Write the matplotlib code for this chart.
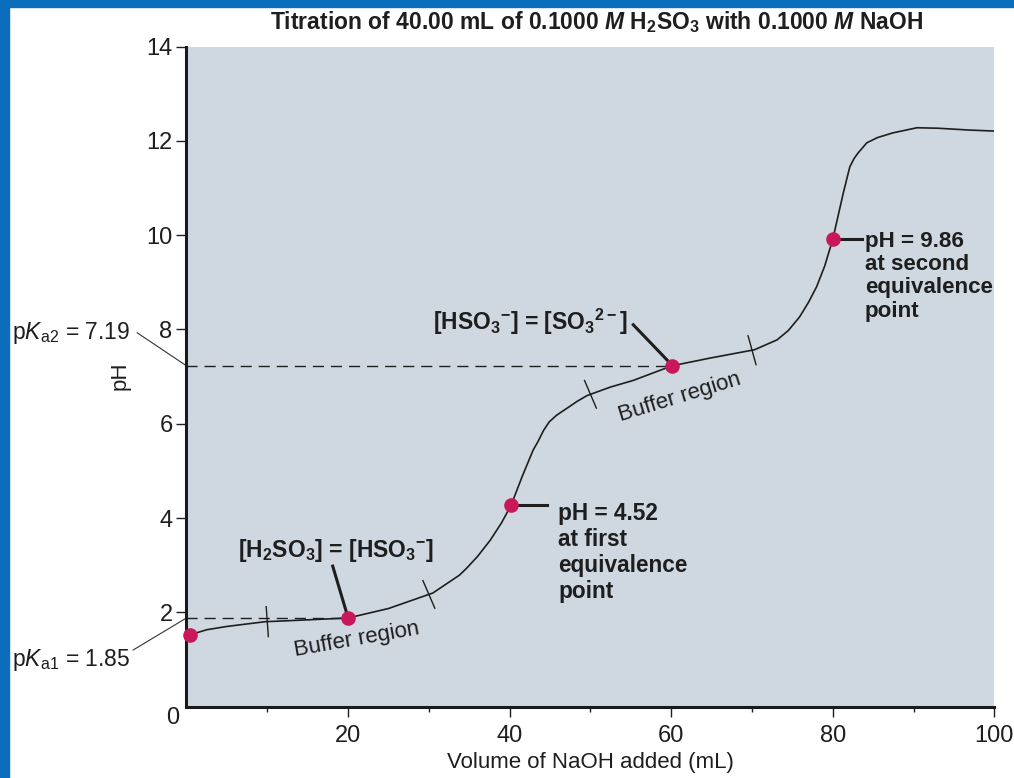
import matplotlib
matplotlib.use('Agg')
import matplotlib.pyplot as plt
from matplotlib.patches import Rectangle
import numpy as np

plt.rcParams['font.family'] = ['Liberation Sans', 'DejaVu Sans']
plt.rcParams['mathtext.fontset'] = 'custom'
plt.rcParams['mathtext.rm'] = 'Liberation Sans'
plt.rcParams['mathtext.it'] = 'Liberation Sans:italic:bold'
plt.rcParams['mathtext.bf'] = 'Liberation Sans:bold'
plt.rcParams['mathtext.sf'] = 'Liberation Sans:italic'

# Titration curve.
volumeAdded = [0.4, 2.5, 5, 9.7, 15, 20, 25, 30.5, 33.8, 34.7, 36, 37.6, 39, 40.2, 41.5, 42.9, 43.5, 44.2, 44.9, 45.8,
               47.1, 48.3, 49.6, 52.5, 55.3, 60.1, 65, 70.3, 73.1, 74.5, 75.9, 77, 78.0, 79, 80.0, 81.3, 82.1, 82.6,
               83.1, 84.2, 85.5, 87.4, 90.4, 93, 97, 100]
phValues = [1.52, 1.63, 1.70, 1.80, 1.84, 1.88, 2.08, 2.41, 2.79, 2.94, 3.18, 3.53, 3.90, 4.28, 4.86, 5.44, 5.62,
            5.86, 6.04, 6.18, 6.33, 6.47, 6.60, 6.78, 6.92, 7.23, 7.40, 7.57, 7.78, 7.98, 8.27, 8.58, 8.91, 9.35,
            9.92, 10.90, 11.45, 11.62, 11.74, 11.96, 12.07, 12.17, 12.28, 12.27, 12.23, 12.21]

# Highlighted points on the curve.
markedVolumes = [0.4, 20, 40.2, 60.1, 80.0]
markedPH = [1.52, 1.88, 4.28, 7.23, 9.92]

# Edges of the two buffer regions.
bufferEdges = [10, 30, 50, 70]

xMajorTicks = [20, 40, 60, 80, 100]
xMinorTicks = [10, 30, 50, 70, 90]
yTicks = [2, 4, 6, 8, 10, 12, 14]

pKaLabels = ['p$\\mathsf{K}_{\\mathrm{a2}}$ = 7.19', 'p$\\mathsf{K}_{\\mathrm{a1}}$ = 1.85']

textColour = '#1e1e1e'
dotColour = '#c8185a'

fig = plt.figure(figsize=(10.14, 7.78), dpi=100)
fig.patch.set_facecolor('white')
ax = fig.add_axes([0.1839, 0.0918, 0.7968, 0.8482])
ax.set_facecolor('#cfd8e0')
ax.set_xlim(0, 100)
ax.set_ylim(0, 14)

# Blue frame on the left and top edges.
fig.patches.append(Rectangle((0, 0), 9 / 1014, 1, transform=fig.transFigure, color='#0a6ebd', zorder=0))
fig.patches.append(Rectangle((0, 1 - 7 / 778), 1, 7 / 778, transform=fig.transFigure, color='#0a6ebd', zorder=0))

for side in ['top', 'right']:
    ax.spines[side].set_visible(False)
for side in ['left', 'bottom']:
    ax.spines[side].set_linewidth(2.2)
    ax.spines[side].set_color('#1a1a1a')

ax.set_xticks(xMajorTicks)
ax.set_xticks(xMinorTicks, minor=True)
ax.set_yticks(yTicks)
ax.tick_params(axis='both', which='major', direction='out', length=7, width=1, colors=textColour, labelsize=17)
ax.tick_params(axis='x', which='major', pad=6)
ax.tick_params(axis='y', which='major', pad=3)
ax.tick_params(axis='x', which='minor', direction='out', length=3.5, width=1, colors=textColour)
ax.text(-1.67, -0.24, '0', fontsize=17, color=textColour, ha='center', va='center', clip_on=False)

ax.set_xlabel('Volume of NaOH added (mL)', fontsize=16, color=textColour)
ax.xaxis.set_label_coords(0.5, -0.084)
ax.xaxis.label.set_va('center')
ax.set_ylabel('pH', fontsize=16, color=textColour)
ax.yaxis.set_label_coords(-0.0823, 0.501)
ax.yaxis.label.set_va('center')

fig.text(0.588, 0.9717, 'Titration of 40.00 mL of 0.1000 $\\mathit{M}$ H$_\\mathbf{2}$SO$_\\mathbf{3}$ with 0.1000 $\\mathit{M}$ NaOH',
         fontsize=16.5, fontweight='bold', color=textColour, ha='center', va='center')

# Dashed pKa guide lines.
ax.plot([0, markedVolumes[1]], [markedPH[1], markedPH[1]], color=textColour, linewidth=1, linestyle=(0, (8, 5)), zorder=2)
ax.plot([0, markedVolumes[3]], [markedPH[3], markedPH[3]], color=textColour, linewidth=1, linestyle=(0, (8, 5)), zorder=2)

# The titration curve and its marked points.
ax.plot(volumeAdded, phValues, color=textColour, linewidth=1.2, zorder=3, solid_joinstyle='round')
ax.plot(markedVolumes, markedPH, linestyle='none', marker='o', markersize=9.5, markerfacecolor=dotColour,
        markeredgecolor=dotColour, zorder=5, clip_on=False)

# Short strokes across the curve at the buffer region edges.
for edge in bufferEdges:
    yEdge = np.interp(edge, volumeAdded, phValues)
    p0 = ax.transData.transform((edge - 1, np.interp(edge - 1, volumeAdded, phValues)))
    p1 = ax.transData.transform((edge + 1, np.interp(edge + 1, volumeAdded, phValues)))
    direction = (p1 - p0) / np.linalg.norm(p1 - p0)
    normal = np.array([-direction[1], direction[0]])
    centre = ax.transData.transform((edge, yEdge))
    ends = ax.transData.inverted().transform(np.array([centre + 15 * normal, centre - 15 * normal]))
    ax.plot(ends[:, 0], ends[:, 1], color=textColour, linewidth=1, zorder=3)

ax.text(21.1, 1.41, 'Buffer region', fontsize=16, color=textColour, rotation=10, ha='center', va='center')
ax.text(61.1, 6.57, 'Buffer region', fontsize=16, color=textColour, rotation=17, ha='center', va='center')

# pKa labels outside the axes.
ax.text(-21.6, 7.92, pKaLabels[0], fontsize=16.5, color=textColour, ha='left', va='center', clip_on=False)
ax.plot([-6.1, 0], [7.93, markedPH[3]], color='#333333', linewidth=0.8, clip_on=False)
ax.text(-21.6, 0.98, pKaLabels[1], fontsize=16.5, color=textColour, ha='left', va='center', clip_on=False)
ax.plot([-6.6, 0], [1.20, markedPH[1]], color='#333333', linewidth=0.8, clip_on=False)

# Equality annotations.
ax.text(18.5, 3.32, '[H$_\\mathbf{2}$SO$_\\mathbf{3}$] = [HSO$_\\mathbf{3}$$^\\mathbf{-}$]', fontsize=16.5, fontweight='bold',
        color=textColour, ha='center', va='center')
ax.plot([18.1, 19.8], [2.98, 2.0], color=textColour, linewidth=2.2, zorder=4)
ax.text(42.6, 8.16, '[HSO$_\\mathbf{3}$$^\\mathbf{-}$] = [SO$_\\mathbf{3}$$^\\mathbf{2-}$]', fontsize=16.5, fontweight='bold',
        color=textColour, ha='center', va='center')
ax.plot([55.3, 59.5], [8.10, 7.35], color=textColour, linewidth=2.2, zorder=4)

# Equivalence point annotations.
ax.plot([40.8, 44.6], [markedPH[2], markedPH[2]], color=textColour, linewidth=2.2, zorder=4)
ax.text(45.98, 3.27, 'pH = 4.52\nat first\nequivalence\npoint', fontsize=16.3, fontweight='bold', color=textColour,
        ha='left', va='center', linespacing=1.18)
ax.plot([80.6, 83.6], [markedPH[4], markedPH[4]], color=textColour, linewidth=2.2, zorder=4)
ax.text(83.97, 9.13, 'pH = 9.86\nat second\nequivalence\npoint', fontsize=16.1, fontweight='bold', color=textColour,
        ha='left', va='center', linespacing=1.14)

plt.savefig('out.png', dpi=100)
